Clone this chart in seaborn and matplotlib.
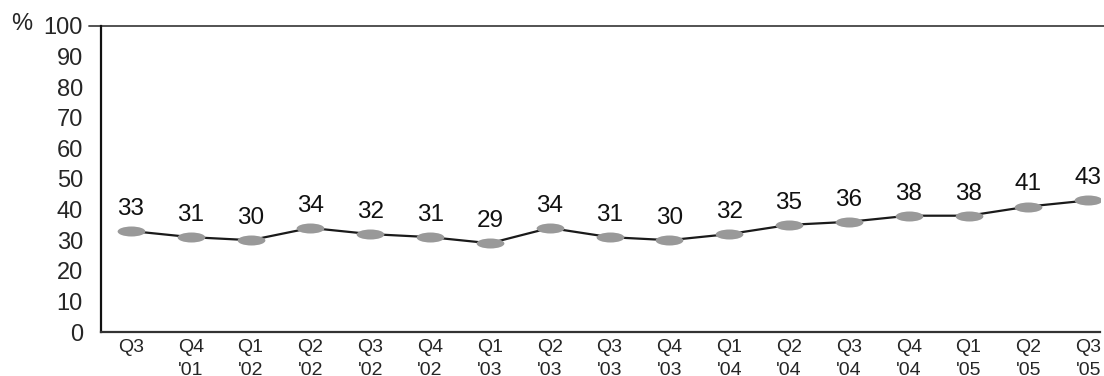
import numpy as np
import pandas as pd
import matplotlib
matplotlib.use("Agg")
import matplotlib.pyplot as plt
from matplotlib.path import Path
from matplotlib.transforms import Affine2D
import seaborn as sns

quarters = ["Q3", "Q4\n'01", "Q1\n'02", "Q2\n'02", "Q3\n'02", "Q4\n'02",
            "Q1\n'03", "Q2\n'03", "Q3\n'03", "Q4\n'03", "Q1\n'04", "Q2\n'04",
            "Q3\n'04", "Q4\n'04", "Q1\n'05", "Q2\n'05", "Q3\n'05"]
share = [33, 31, 30, 34, 32, 31, 29, 34, 31, 30, 32, 35, 36, 38, 38, 41, 43]
y_ticks = [0, 10, 20, 30, 40, 50, 60, 70, 80, 90, 100]

sns.set_style("white")
plt.rcParams["font.family"] = ["Liberation Sans", "DejaVu Sans"]

df = pd.DataFrame({"pos": np.arange(len(share)), "share": share})

fig = plt.figure(figsize=(11.04, 3.76), dpi=100)
ax = fig.add_axes([0.0915, 0.117, 0.905, 0.814])

# flat ellipse marker
ellipse = Path.unit_circle().transformed(Affine2D().scale(1.0, 0.36))

sns.lineplot(data=df, x="pos", y="share", ax=ax, color="#1a1a1a",
             linewidth=1.6, marker=ellipse, markersize=20,
             markerfacecolor="#999999", markeredgecolor="#999999",
             markeredgewidth=0, zorder=3)

for x, v in zip(df["pos"], df["share"]):
    ax.annotate(str(v), (x, v), xytext=(0, 8), textcoords="offset points",
                ha="center", va="bottom", fontsize=17.5, color="#111111")

ax.set_xlim(-0.45, 16.2)
ax.set_ylim(0, 100)
ax.set_yticks(y_ticks)
ax.set_yticklabels([str(t) for t in y_ticks], fontsize=17)

# category labels centred, ticks at category boundaries
ax.set_xticks(np.arange(len(quarters)))
ax.set_xticklabels(quarters, fontsize=14, linespacing=1.45, va="top")
ax.set_xticks(np.arange(len(quarters)) - 0.5, minor=True)
ax.tick_params(axis="x", which="major", length=0, pad=5)
ax.tick_params(axis="x", which="minor", length=4, width=1.2, color="#333333",
               direction="out")
ax.tick_params(axis="y", length=8, width=1.2, color="#333333",
               direction="out", pad=5)

ax.set_xlabel("")
ax.set_ylabel("")

for side in ["top", "right"]:
    ax.spines[side].set_visible(False)
ax.spines["left"].set_color("#111111")
ax.spines["left"].set_linewidth(1.6)
ax.spines["bottom"].set_color("#333333")
ax.spines["bottom"].set_linewidth(1.6)

# rule along the 100 line running to the figure edge
ax.axhline(100, xmin=-0.012, xmax=1.01, color="#444444", linewidth=1.3,
           clip_on=False)

fig.text(0.01, 0.937, "%", fontsize=17, va="center", ha="left")

fig.savefig("out.png", dpi=100)
